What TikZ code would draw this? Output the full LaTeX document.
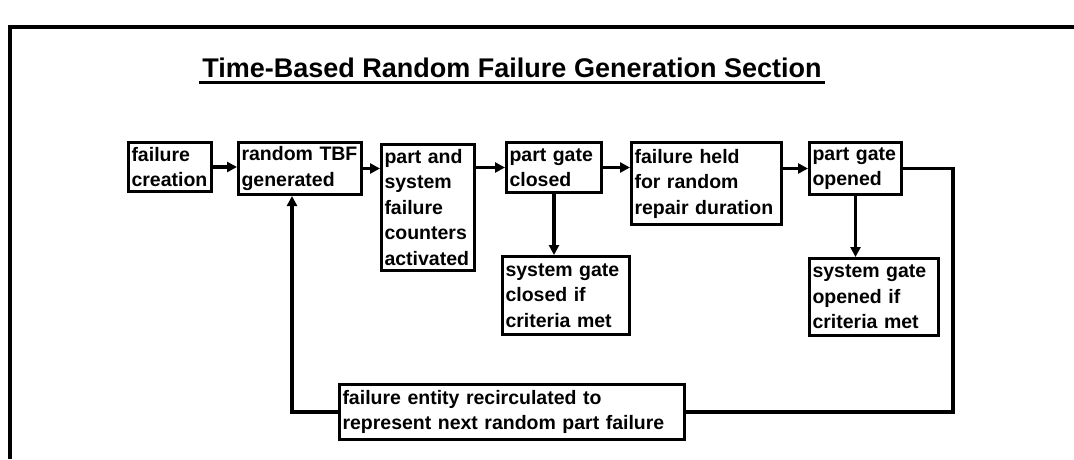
\documentclass[tikz,border=0pt]{standalone}
\usepackage{fontspec}
\setmainfont{Liberation Sans}
\usetikzlibrary{arrows.meta}
\begin{document}
\begin{tikzpicture}[x=1pt,y=-1pt,
  stagebox/.style={draw, line width=3pt, anchor=north west, inner xsep=3pt, inner ysep=2pt,
    align=left, font=\fontsize{19.5}{25.5}\selectfont\bfseries},
  link/.style={line width=3.6pt},
  flow/.style={link, -{Triangle[length=10pt,width=10pt]}},
  frameline/.style={line width=3.5pt}]
  \useasboundingbox[fill=white] (0,0) rectangle (1074,459);
  % frame around the section
  \draw[frameline] (10,459) -- (10,27) -- (1074,27);
  % heading
  \node[font=\fontsize{27}{30}\selectfont\bfseries] (title) at (512,68) {Time-Based Random Failure Generation Section};
  \draw[line width=3pt] ([yshift=-5pt]title.base west) -- ([yshift=-5pt]title.base east);
  % stages
  \node[stagebox, minimum width=83pt, minimum height=49pt, text width=77pt] (b1) at (127,141) {failure\\creation};
  \node[stagebox, minimum width=123pt, minimum height=52pt, text width=117pt] (b2) at (237,141) {random TBF\\generated};
  \node[stagebox, minimum width=93pt, minimum height=126pt, text width=87pt] (b3) at (380,143) {part and\\system\\failure\\counters\\activated};
  \node[stagebox, minimum width=95pt, minimum height=50pt, text width=89pt] (b4) at (505,141) {part gate\\closed};
  \node[stagebox, minimum width=150pt, minimum height=82pt, text width=144pt] (b5) at (630,141) {failure held\\for random\\repair duration};
  \node[stagebox, minimum width=92pt, minimum height=52pt, text width=86pt] (b6) at (808,141) {part gate\\opened};
  \node[stagebox, minimum width=127pt, minimum height=78pt, text width=121pt] (b7) at (501,255) {system gate\\closed if\\criteria met};
  \node[stagebox, minimum width=129pt, minimum height=77pt, text width=123pt] (b8) at (808,257) {system gate\\opened if\\criteria met};
  \node[stagebox, minimum width=345pt, minimum height=55pt, text width=339pt] (b9) at (338,383) {failure entity recirculated to\\represent next random part failure};
  % loop corners
  \coordinate (loopR) at (953,0);
  \coordinate (loopL) at (292,0);
  % connectors
  \draw[flow] (b1.east) -- (b1.east -| b2.west);
  \draw[flow] (b2.east) -- (b2.east -| b3.west);
  \draw[flow] (b4.west -| b3.east) -- (b4.west);
  \draw[flow] (b4.east) -- (b4.east -| b5.west);
  \draw[flow] (b6.west -| b5.east) -- (b6.west);
  \draw[flow] (b4.south) -- (b4.south |- b7.north);
  \draw[flow] (b6.south) -- (b6.south |- b8.north);
  \draw[link] (b6.east) -- (b6.east -| loopR) -- (loopR |- b9.east) -- (b9.east);
  \draw[flow] (b9.west) -- (b9.west -| loopL) -- (loopL |- b2.south);
\end{tikzpicture}
\end{document}
